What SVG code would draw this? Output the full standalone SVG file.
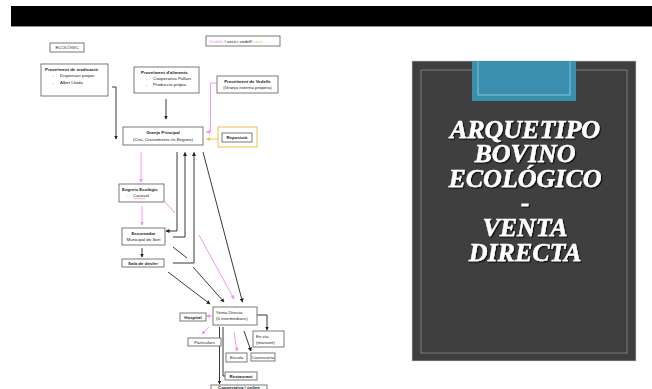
<svg xmlns="http://www.w3.org/2000/svg" width="652" height="389" viewBox="0 0 652 389">
<style>
.box{fill:#fff;stroke:#6a6a6a;stroke-width:0.9}
.t{font-family:"Liberation Sans",Arial,sans-serif;font-size:4.4px;fill:#222}
.b{font-weight:bold}
.c{text-anchor:middle}
.k{fill:none;stroke:#222;stroke-width:0.9}
.p{fill:none;stroke:#f48cf4;stroke-width:0.9}
.y{fill:none;stroke:#f5c04a;stroke-width:0.9}
.title{font-family:"Liberation Serif","Times New Roman",serif;font-weight:bold;font-style:italic;font-size:26px;text-anchor:middle;fill:#fff;stroke:#fff;stroke-width:0.4}
</style>
<defs>
<filter id="sh" x="-10%" y="-20%" width="120%" height="140%"><feDropShadow dx="1.2" dy="1.2" stdDeviation="0.4" flood-color="#111" flood-opacity="1"/></filter>
<marker id="ak" markerUnits="userSpaceOnUse" markerWidth="4" markerHeight="4" refX="3.5" refY="2" orient="auto"><path d="M0,0 L4,2 L0,4 z" fill="#222"/></marker>
<marker id="ap" markerUnits="userSpaceOnUse" markerWidth="4" markerHeight="4" refX="3.5" refY="2" orient="auto"><path d="M0,0 L4,2 L0,4 z" fill="#f48cf4"/></marker>
<marker id="ay" markerUnits="userSpaceOnUse" markerWidth="4" markerHeight="4" refX="3.5" refY="2" orient="auto"><path d="M0,0 L4,2 L0,4 z" fill="#f5c04a"/></marker>
</defs>
<rect x="0" y="0" width="652" height="389" fill="#fff"/>
<rect x="11" y="6" width="641" height="20" fill="#000"/>
<line x1="11" y1="26.5" x2="652" y2="26.5" stroke="#777" stroke-width="0.8"/>

<g id="connectors">
<path class="k" d="M112,87 H116 V139" marker-end="url(#ak)"/>
<path class="k" d="M166,99 V119" marker-end="url(#ak)"/>
<path class="p" d="M216,83 H210.5 V132 H206.5" marker-end="url(#ap)"/>
<path class="y" d="M218,139 H206.5" marker-end="url(#ay)"/>
<path class="p" d="M141,152 V182" marker-end="url(#ap)"/>
<path class="p" d="M142,206 V225" marker-end="url(#ap)"/>
<path class="k" d="M177,152 V231 H166" marker-end="url(#ak)"/>
<path class="k" d="M173,237 H185 V152.5" marker-end="url(#ak)"/>
<path class="k" d="M173,263 H194 V152.5" marker-end="url(#ak)"/>
<path class="k" d="M173,247 L187,258"/>
<path class="k" d="M193,267 L224,302" marker-end="url(#ak)"/>
<path class="k" d="M168,272 L210,304" marker-end="url(#ak)"/>
<path class="k" d="M203,152 L242.5,302" marker-end="url(#ak)"/>
<path class="p" d="M165,202 L175,213"/>
<path class="p" d="M199,235 L234,299" marker-end="url(#ap)"/>
<path class="k" d="M142,248 V257" marker-end="url(#ak)"/>
<path class="p" d="M212.5,316 H206.5" marker-end="url(#ap)"/>
<path class="p" d="M209,327 L202,334" marker-end="url(#ap)"/>
<path class="p" d="M234,332 L237,351" marker-end="url(#ap)"/>
<path class="k" d="M244,331 L251,351" marker-end="url(#ak)"/>
<path class="k" d="M257,315 H267 V330" marker-end="url(#ak)"/>
<path class="k" d="M219.5,327 V384" marker-end="url(#ak)"/>
<path class="k" d="M223,327 V376 H225"/>
</g>

<g id="ecologic"><rect class="box" x="50" y="43" width="34" height="9"/><text class="t c" x="67" y="49">ECOLÒGIC</text></g>

<g id="legend"><rect class="box" x="206" y="36" width="74" height="10"/><text class="t" x="209" y="42.5"><tspan fill="#f48cf4">Vedells</tspan> / vaca i vedell/ <tspan fill="#f5c04a">vaca</tspan></text></g>

<g id="medicacio"><rect class="box" x="41" y="64" width="67" height="32"/>
<text class="t b" x="45" y="70.5">Proveïment de medicació</text>
<text class="t" x="52" y="77">-</text><text class="t" x="60" y="77">Dispensari proper</text>
<text class="t" x="52" y="83.5">-</text><text class="t" x="60" y="83.5">Albet Lleida</text></g>

<g id="aliments"><rect class="box" x="134" y="67" width="65" height="26"/>
<text class="t b" x="141" y="73.5">Proveïment d'aliments</text>
<text class="t" x="146" y="79.5">-</text><text class="t" x="153" y="79.5">Cooperativa Pallars</text>
<text class="t" x="146" y="85.5">-</text><text class="t" x="153" y="85.5">Producció pròpia</text></g>

<g id="vedells"><rect class="box" x="217" y="76" width="61" height="17"/>
<text class="t b c" x="247.5" y="82.5">Proveïment de Vedells</text>
<text class="t c" x="247.5" y="89">(Granja externa propera)</text></g>

<g id="granja"><rect class="box" x="123" y="127" width="80" height="18"/>
<text class="t b c" x="163" y="134">Granja Principal</text>
<text class="t c" x="163" y="140.5">(Cria, Creixements i/o Engreix)</text></g>

<g id="reposicio"><rect x="218" y="127" width="39" height="20" fill="#fff" stroke="#f5c04a" stroke-width="1"/>
<rect class="box" x="222" y="133" width="30" height="9"/>
<text class="t b c" x="237" y="139.3">Reposició</text></g>

<g id="engreix"><rect class="box" x="119" y="184" width="45" height="18"/>
<text class="t b" x="122" y="190.5">Engreix Ecològic</text>
<text class="t" x="127" y="197">-</text><text class="t" x="133" y="197">Casoval</text>
<path d="M133,198.6 q0.75,-0.6 1.5,0 t1.5,0 t1.5,0 t1.5,0 t1.5,0 t1.5,0 t1.5,0 t1.5,0" fill="none" stroke="#e33" stroke-width="0.4"/></g>

<g id="escorxador"><rect class="box" x="122" y="228" width="43" height="17"/>
<text class="t b c" x="143.5" y="234.5">Escorxador</text>
<text class="t c" x="143.5" y="241">Municipal de Sort</text></g>

<g id="sala"><rect class="box" x="122" y="259" width="42" height="8"/><text class="t b c" x="143" y="264.6">Sala de desfer</text></g>

<g id="venta"><rect class="box" x="213" y="307" width="44" height="18"/>
<text class="t" x="216" y="313.5">Venta Directa</text>
<text class="t" x="216" y="320">(0 intermediaris)</text></g>

<g id="hospital"><rect class="box" x="180" y="313" width="26" height="8"/><text class="t b c" x="193" y="318.6">Hospital</text></g>
<g id="particulars"><rect class="box" x="188" y="338" width="33" height="8"/><text class="t c" x="204.5" y="343.6">Particulars</text></g>
<g id="escola"><rect class="box" x="226" y="353" width="21" height="9"/><text class="t c" x="236.5" y="359">Escola</text></g>
<g id="carnisseria"><rect class="box" x="251" y="353" width="24" height="8"/><text class="t c" x="263" y="358.6">Carnisseria</text></g>
<g id="envia"><rect class="box" x="253" y="331" width="31" height="16"/>
<text class="t" x="256" y="337.5">En vía</text><text class="t" x="256" y="343.5">(marxant)</text></g>
<g id="restaurant"><rect class="box" x="225" y="372" width="32" height="8"/><text class="t b c" x="241" y="377.6">Restaurant</text></g>
<g id="cooperativa"><rect class="box" x="211" y="385" width="56" height="8"/><text class="t b c" x="239" y="389.2">Cooperativa / online</text></g>

<g id="panel">
<rect x="412" y="61" width="224" height="300" fill="#3f3f3f" stroke="#cfcfcf" stroke-width="0.6"/>
<rect x="421" y="70" width="206" height="283" fill="none" stroke="#8a8a8a" stroke-width="0.8"/>
<rect x="472" y="61" width="104" height="40" fill="#3a8fae"/>
<path d="M478,61 V95 H570 V61" fill="none" stroke="#9fd0e0" stroke-width="0.8"/>
<g class="title" filter="url(#sh)">
<text x="525" y="137.5">ARQUETIPO</text><text x="525" y="162">BOVINO</text><text x="525" y="186.5">ECOLÓGICO</text><text x="525" y="211">-</text><text x="525" y="236">VENTA</text><text x="525" y="261">DIRECTA</text>
</g>
</g>
</svg>
